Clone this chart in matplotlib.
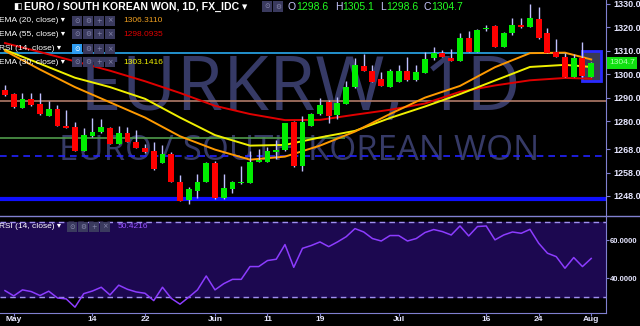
import matplotlib
matplotlib.use('Agg')
import matplotlib.pyplot as plt
from matplotlib.patches import Rectangle
import numpy as np
import pandas as pd

# daily candles, 30 Apr 2018 .. 1 Aug 2018 (weekdays)
dates = pd.bdate_range('2018-04-30', '2018-08-01')

opens = [1293.3, 1291.6, 1285.7, 1289.3, 1287.4, 1282.3, 1285.3, 1277.9, 1277.3, 1267.3,
         1273.6, 1275.2, 1277.2, 1270.2, 1274.8, 1271.2, 1268.4, 1267.2, 1262.2, 1265.9,
         1254.1, 1246.3, 1250.1, 1254.1, 1262.0, 1247.0, 1250.8, 1253.4, 1253.7, 1262.5,
         1262.6, 1266.7, 1267.6, 1279.5, 1260.9, 1277.9, 1282.9, 1288.0, 1282.6, 1287.3,
         1294.4, 1303.5, 1301.5, 1298.0, 1294.7, 1296.8, 1301.4, 1297.5, 1300.7, 1306.8,
         1308.9, 1306.8, 1305.7, 1315.3, 1309.6, 1319.5, 1320.6, 1311.8, 1317.5, 1321.0,
         1320.3, 1323.6, 1317.5, 1309.4, 1307.2, 1298.9, 1306.8, 1298.6]
highs = [1295.4, 1292.0, 1292.1, 1291.9, 1291.9, 1288.6, 1286.7, 1284.7, 1279.6, 1277.0,
         1281.2, 1280.8, 1277.6, 1277.9, 1277.6, 1276.2, 1270.2, 1271.2, 1269.6, 1266.8,
         1257.0, 1252.0, 1257.4, 1262.5, 1263.1, 1257.4, 1254.5, 1260.8, 1267.3, 1267.9,
         1268.8, 1271.9, 1279.3, 1280.2, 1282.2, 1283.6, 1290.0, 1289.0, 1290.4, 1297.1,
         1306.8, 1308.6, 1303.9, 1301.1, 1302.1, 1303.9, 1307.2, 1303.9, 1309.4, 1311.5,
         1310.4, 1310.8, 1317.5, 1318.6, 1319.2, 1321.0, 1321.0, 1317.9, 1323.9, 1323.9,
         1330.0, 1328.8, 1319.9, 1315.0, 1308.9, 1308.6, 1313.9, 1305.1]
lows = [1290.8, 1285.6, 1285.4, 1286.6, 1282.7, 1282.0, 1277.8, 1277.0, 1267.0, 1267.0,
        1273.3, 1275.0, 1270.0, 1270.0, 1271.0, 1268.4, 1266.2, 1259.2, 1262.0, 1253.8,
        1245.8, 1244.6, 1247.0, 1253.8, 1246.8, 1246.8, 1249.1, 1253.0, 1253.5, 1262.3,
        1262.4, 1263.8, 1267.4, 1260.5, 1258.7, 1277.7, 1282.7, 1279.3, 1280.7, 1287.1,
        1294.2, 1301.2, 1296.6, 1294.8, 1294.5, 1296.6, 1297.3, 1297.3, 1300.5, 1306.0,
        1307.3, 1305.5, 1305.5, 1309.4, 1309.4, 1318.6, 1311.6, 1311.6, 1316.8, 1319.8,
        1320.1, 1315.1, 1309.0, 1307.3, 1298.7, 1298.7, 1299.0, 1298.6]
closes = [1291.1, 1286.0, 1289.3, 1287.0, 1283.0, 1285.3, 1278.0, 1277.2, 1267.3, 1274.0,
          1275.5, 1277.3, 1270.2, 1274.9, 1271.2, 1268.6, 1266.9, 1259.4, 1265.9, 1254.1,
          1246.0, 1250.8, 1254.0, 1262.0, 1247.0, 1251.4, 1253.8, 1254.0, 1262.6, 1263.4,
          1267.2, 1267.8, 1279.0, 1260.9, 1279.5, 1282.9, 1286.9, 1282.3, 1287.8, 1294.4,
          1303.8, 1301.4, 1296.8, 1295.0, 1301.4, 1301.4, 1297.5, 1301.0, 1306.4, 1308.9,
          1307.5, 1305.7, 1315.3, 1309.6, 1318.9, 1319.7, 1311.8, 1317.5, 1321.0, 1320.0,
          1323.9, 1315.3, 1309.2, 1307.5, 1298.9, 1307.1, 1299.2, 1304.7]

# moving averages at some candles
ema_idx = [0, 4, 8, 12, 16, 20, 24, 28, 32, 36, 40, 44, 48, 52, 56, 60, 64, 67]
ema20 = [1310.0, 1302.0, 1294.5, 1288.0, 1281.5, 1273.5, 1267.8, 1263.5, 1264.8, 1269.5,
         1275.5, 1283.0, 1290.0, 1295.0, 1303.0, 1309.0, 1309.2, 1306.3]
ema30 = [1310.4, 1304.5, 1298.5, 1294.5, 1289.5, 1281.5, 1274.0, 1269.5, 1269.8, 1273.0,
         1275.8, 1281.3, 1286.2, 1291.5, 1297.3, 1303.1, 1304.0, 1303.1]
ema55 = [1313.3, 1309.5, 1305.5, 1301.5, 1297.0, 1292.0, 1286.5, 1283.0, 1280.4, 1280.5,
         1282.7, 1284.8, 1287.5, 1292.5, 1295.2, 1297.4, 1298.4, 1298.1]

rsi = [33.3, 30.5, 33.7, 32.8, 30.7, 33.0, 29.4, 28.9, 24.5, 31.7,
       33.1, 35.1, 31.0, 36.2, 34.0, 32.6, 31.9, 28.0, 35.1, 29.2,
       26.1, 29.8, 33.7, 41.1, 33.7, 37.0, 39.3, 39.3, 46.1, 46.1,
       49.3, 50.0, 57.8, 45.7, 55.8, 57.3, 59.2, 56.7, 59.2, 62.0,
       66.3, 64.5, 61.0, 59.7, 62.6, 62.6, 59.7, 61.0, 64.2, 65.8,
       64.7, 62.9, 67.7, 62.4, 67.4, 67.7, 60.3, 62.9, 64.5, 63.8,
       65.9, 58.5, 53.2, 51.4, 45.2, 50.9, 46.1, 50.42]

tick_dates = ['2018-05-01', '2018-05-14', '2018-05-22', '2018-06-01', '2018-06-11',
              '2018-06-19', '2018-07-02', '2018-07-16', '2018-07-24', '2018-08-01']
tick_labels = ['May', '14', '22', 'Jun', '11', '19', 'Jul', '16', '24', 'Aug']
price_ticks = [1248, 1258, 1268, 1280, 1290, 1300, 1310, 1320, 1330]

W, H = 640, 326
UI = ['Liberation Sans', 'DejaVu Sans']

def fx(x):
    return x / W

def fy(y):
    return 1 - y / H

fig = plt.figure(figsize=(6.4, 3.26), dpi=100, facecolor='black')
ax = fig.add_axes([0, fy(216), fx(606), 216 / H])
ax2 = fig.add_axes([0, fy(313), fx(606), 97 / H])

o = np.array(opens)
c = np.array(closes)
x = np.arange(len(c))

for a in (ax, ax2):
    a.set_facecolor('black')
    a.set_xlim(-0.57, 68.69)
    for s in a.spines.values():
        s.set_visible(False)
    a.spines['right'].set_visible(True)
    a.spines['right'].set_color('#8080d0')
    a.yaxis.tick_right()
    a.tick_params(axis='y', colors='#8080d0', length=3, labelcolor='#e6e6ff',
                  labelsize=6.5, pad=2)

ax.set_ylim(1239.44, 1331.7)

# watermark
ax.text(0.495, 0.58, 'EURKRW, 1D', transform=ax.transAxes, ha='center', va='center',
        fontsize=54, color='#363a66', family='Open Sans', zorder=0)
ax.text(0.493, 0.30, 'EURO / SOUTH KOREAN WON', transform=ax.transAxes, ha='center',
        va='center', fontsize=25, color='#363a66', family='Open Sans', zorder=0)

# levels
ax.hlines(1309.1, -0.57, 64, color='#2aaaf0', lw=1.2, zorder=2)
ax.axhline(1288.7, color='#b07a68', lw=1.2, zorder=2)
ax.hlines(1272.9, -0.57, 38.9, color='#4f9a4a', lw=1.2, zorder=2)
ax.axhline(1264.9, color='#2222ff', lw=1.2, ls=(0, (4, 3)), zorder=2)
ax.axhline(1246.8, color='#1010ff', lw=3, zorder=2)

# highlight box on last candles
ax.add_patch(Rectangle((65.9, 1297.1), 2.2, 12.95, fc='#3a3a55', ec='#2a2aff', lw=2, zorder=2))

# moving averages
ax.plot(ema_idx, ema55, color='#e00000', lw=1.4, zorder=3)
ax.plot(ema_idx, ema30, color='#f0f000', lw=1.4, zorder=3)
ax.plot(ema_idx, ema20, color='#ff9a00', lw=1.4, zorder=3)

# candles
cols = np.where(c >= o, '#00ee00', '#ff0000')
ax.vlines(x, lows, highs, color='#c0c0ff', lw=1, zorder=4)
ax.bar(x, np.maximum(np.abs(c - o), 0.35), bottom=np.minimum(o, c), width=0.68,
       color=cols, linewidth=0, zorder=5)

ax.set_yticks(price_ticks)
ax.set_yticklabels([f'{p:.1f}' for p in price_ticks], family=UI, fontweight='bold')
ax.set_xticks([])

# RSI panel
ax2.set_ylim(21.4, 73.0)
ax2.axhspan(30, 70, color='#1c0850', zorder=0)
ax2.axhline(70, color='#a090f0', lw=1, ls=(0, (4, 3)))
ax2.axhline(30, color='#a090f0', lw=1, ls=(0, (4, 3)))
ax2.plot(x, rsi, color='#8c3cff', lw=1.1)
ax2.spines['bottom'].set_visible(True)
ax2.spines['bottom'].set_color('#8080d0')
ax2.set_yticks([40, 60])
ax2.set_yticklabels(['40.0000', '60.0000'], family=UI, fontweight='bold')
ax2.tick_params(axis='y', labelsize=5.5, length=2, pad=1)
tick_pos = [dates.get_loc(pd.Timestamp(d)) for d in tick_dates]
ax2.set_xticks(tick_pos)
ax2.set_xticklabels(tick_labels, family=UI, fontweight='bold')
ax2.tick_params(axis='x', colors='#8080d0', length=2, labelcolor='#e6e6ff',
                labelsize=6, pad=0.5)

# separator between panels
fig.add_artist(plt.Line2D([0, 1], [fy(216), fy(216)], color='#8080d0', lw=1))

# last price label
fig.text(fx(609), fy(63), f'{closes[-1]:.1f}', ha='left', va='center', fontsize=6,
         color='#b0ffb0', family=UI,
         bbox=dict(boxstyle='square,pad=0.25', fc='#10e010', ec='none'))


def icons(x0, y, n=4, active=False):
    glyphs = ['\u2299', '\u2699', '+', '\u00d7'][:n]
    for k, g in enumerate(glyphs):
        fc = '#2e9cf0' if (active and k == 0) else '#3a3a5e'
        gc = '#ffffff' if (active and k == 0) else '#8a8ab0'
        fig.add_artist(Rectangle((fx(x0 + k * 11), fy(y + 5)), 10 / W, 10 / H,
                                 transform=fig.transFigure, fc=fc, ec='none'))
        fig.text(fx(x0 + k * 11 + 5), fy(y), g, ha='center', va='center', fontsize=4.8,
                 color=gc, family='DejaVu Sans')


# header
fig.text(fx(13), fy(6.5), '\u25e7', ha='left', va='center', fontsize=6.5, color='white',
         family='DejaVu Sans')
fig.text(fx(24), fy(6.5), 'EURO / SOUTH KOREAN WON, 1D, FX_IDC \u25be', ha='left',
         va='center', fontsize=7.6, color='white', fontweight='bold', family=UI)
icons(262, 6.5, n=2)
parts = [(288, 'O', '#c8c8ff'), (296, '1298.6', '#22ff22'), (335, 'H', '#c8c8ff'),
         (342, '1305.1', '#22ff22'), (380, 'L', '#c8c8ff'), (386, '1298.6', '#22ff22'),
         (424, 'C', '#c8c8ff'), (431, '1304.7', '#22ff22')]
for px, s, col in parts:
    fig.text(fx(px), fy(6.5), s, ha='left', va='center', fontsize=7.5, color=col,
             family=UI)

# indicator legend
rows = [(20.7, 'EMA (20, close)', '1306.3110', '#f0a020', False),
        (34.3, 'EMA (55, close)', '1298.0935', '#e00000', False),
        (49.0, 'RSI (14, close)', '', '', True),
        (62.3, 'EMA (30, close)', '1303.1416', '#f0f000', False)]
for y, name, val, col, act in rows:
    fig.text(fx(-1), fy(y), name + ' \u25be', ha='left', va='center', fontsize=6,
             color='white', family=UI)
    icons(72, y, active=act)
    if val:
        fig.text(fx(123), fy(y), val, ha='left', va='center', fontsize=6, color=col,
                 family=UI)

fig.text(fx(-1), fy(226.7), 'RSI (14, close) \u25be', ha='left', va='center',
         fontsize=6, color='white', family=UI)
icons(67, 226.7)
fig.text(fx(118), fy(226.7), '50.4216', ha='left', va='center', fontsize=6,
         color='#9a55ff', family=UI)

fig.savefig('out.png', dpi=100, facecolor='black')
